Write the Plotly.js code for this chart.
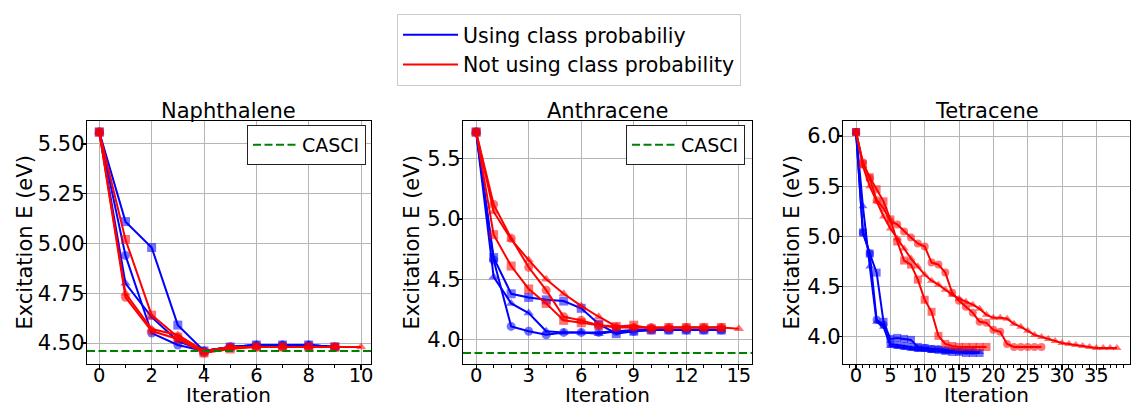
<!DOCTYPE html>
<html>
<head>
<meta charset="utf-8">
<script src="https://cdn.plot.ly/plotly-3.0.1.min.js"></script>
<style>html,body{margin:0;padding:0;background:#fff;}#chart{width:1133px;height:409px;}</style>
</head>
<body>
<div id="chart"></div>
<script>
// ---- Data ----
const panelTitles = ["Naphthalene", "Anthracene", "Tetracene"];
const seriesNames = ["Using class probabiliy", "Not using class probability"];
const xTitle = "Iteration";
const yTitle = "Excitation E (eV)";
const cascis = [4.46, 3.89, null];

// Naphthalene
const napBlueCircle   = [5.56, 4.94, 4.55, 4.49, 4.46, 4.48, 4.49, 4.49, 4.49, 4.48];
const napBlueSquare   = [5.56, 5.11, 4.98, 4.59, 4.46, 4.48, 4.49, 4.49, 4.49, 4.48];
const napBlueTriangle = [5.56, 4.80, 4.63, 4.51, 4.46, 4.48, 4.49, 4.49, 4.49, 4.48];
const napRedCircle    = [5.56, 4.73, 4.56, 4.52, 4.45, 4.48, 4.48, 4.48, 4.48, 4.48];
const napRedSquare    = [5.56, 5.02, 4.64, 4.53, 4.45, 4.47, 4.48, 4.48, 4.48, 4.48];
const napRedTriangle  = [5.56, 4.75, 4.57, 4.54, 4.46, 4.48, 4.48, 4.48, 4.48, 4.48, 4.48];

// Anthracene
const antBlueCircle   = [5.72, 4.66, 4.11, 4.07, 4.04, 4.06, 4.06, 4.06, 4.07, 4.07, 4.08, 4.08, 4.08, 4.08, 4.08];
const antBlueSquare   = [5.72, 4.68, 4.38, 4.35, 4.33, 4.32, 4.26, 4.13, 4.05, 4.07, 4.08, 4.08, 4.08, 4.08, 4.08];
const antBlueTriangle = [5.72, 4.52, 4.30, 4.22, 4.07, 4.06, 4.06, 4.05, 4.07, 4.08, 4.08, 4.08, 4.08, 4.08, 4.08];
const antRedCircle    = [5.72, 5.12, 4.84, 4.60, 4.41, 4.19, 4.16, 4.12, 4.10, 4.10, 4.10, 4.10, 4.10, 4.10, 4.10];
const antRedSquare    = [5.72, 4.87, 4.61, 4.42, 4.30, 4.16, 4.14, 4.12, 4.11, 4.12, 4.09, 4.10, 4.10, 4.10, 4.10];
const antRedTriangle  = [5.72, 5.06, 4.83, 4.66, 4.50, 4.38, 4.28, 4.19, 4.11, 4.10, 4.10, 4.10, 4.10, 4.10, 4.10, 4.09];

// Tetracene
const tetBlueCircle   = [6.04, 5.04, 4.83, 4.17, 4.12, 3.93, 3.92, 3.91, 3.90, 3.89, 3.89, 3.88, 3.88, 3.87, 3.87, 3.86, 3.86, 3.86];
const tetBlueSquare   = [6.04, 5.04, 4.83, 4.64, 4.15, 3.98, 3.99, 3.98, 3.97, 3.90, 3.89, 3.88, 3.87, 3.86, 3.85, 3.85, 3.84, 3.84, 3.84];
const tetBlueTriangle = [6.04, 5.30, 4.70, 4.15, 4.10, 3.91, 3.90, 3.89, 3.88, 3.87, 3.87, 3.86, 3.86, 3.85, 3.85, 3.85, 3.85, 3.85, 3.85];
const tetRedCircle    = [6.04, 5.74, 5.58, 5.36, 5.28, 5.15, 5.12, 5.05, 4.99, 4.93, 4.90, 4.74, 4.72, 4.64, 4.44, 4.36, 4.30, 4.24, 4.15, 4.14, 4.07, 4.05, 3.93, 3.90, 3.90, 3.90, 3.90, 3.90];
const tetRedSquare    = [6.04, 5.72, 5.59, 5.47, 5.35, 5.17, 4.95, 4.76, 4.72, 4.57, 4.37, 4.25, 4.01, 3.93, 3.91, 3.90, 3.90, 3.90, 3.90, 3.90];
const tetRedTriangle  = [6.04, 5.70, 5.50, 5.35, 5.20, 5.08, 4.98, 4.88, 4.78, 4.70, 4.62, 4.56, 4.52, 4.47, 4.42, 4.38, 4.35, 4.32, 4.28, 4.22, 4.19, 4.19, 4.18, 4.13, 4.10, 4.06, 4.02, 4.00, 3.98, 3.96, 3.94, 3.93, 3.92, 3.91, 3.90, 3.89, 3.89, 3.89, 3.89];

const runs = [
  {blue: [napBlueCircle, napBlueSquare, napBlueTriangle], red: [napRedCircle, napRedSquare, napRedTriangle]},
  {blue: [antBlueCircle, antBlueSquare, antBlueTriangle], red: [antRedCircle, antRedSquare, antRedTriangle]},
  {blue: [tetBlueCircle, tetBlueSquare, tetBlueTriangle], red: [tetRedCircle, tetRedSquare, tetRedTriangle]}
];
const symbols = ["circle", "square", "triangle-up"];

// ---- Styling ----
const FONT = "DejaVu Sans";
const FS = 21;
const XFS = 19.5;
const LFS = 20.5;
const BLUE = "#0000ff", RED = "#ff0000", GREEN = "#008000";
const W = 1133, H = 409;
const xDomains = [[87/W, 371/W], [463/W, 752/W], [843/W, 1130/W]];
const yDomain = [(H-364)/H, (H-121)/H];
const yTitleX = [24, 411, 791];
const xRanges = [[-0.47, 10.38], [-0.75, 15.75], [-1.9, 39.9]];
const yRanges = [[4.3945, 5.6155], [3.7985, 5.8115], [3.73, 6.15]];
const xDticks = [2, 3, 5];
const yTickVals = [[4.50, 4.75, 5.00, 5.25, 5.50], [4.0, 4.5, 5.0, 5.5], [4.0, 4.5, 5.0, 5.5, 6.0]];
const yTickFmt = [".2f", ".1f", ".1f"];
const markerSizes = [9, 9, 8];

const traces = [];
const shapes = [];
const annotations = [];
const layout = {
  width: W, height: H,
  margin: {l: 0, r: 0, t: 0, b: 0},
  paper_bgcolor: "#fff", plot_bgcolor: "#fff",
  font: {family: FONT, size: FS, color: "#000"},
  showlegend: true,
  legend: {
    x: 397/W, y: 1 - 14/H, xanchor: "left", yanchor: "top",
    bordercolor: "#cccccc", borderwidth: 1, bgcolor: "#fff",
    font: {family: FONT, size: LFS, color: "#000"},
    itemwidth: 55, tracegroupgap: 0
  },
  legend2: {
    x: 247/W, y: 1 - 125/H, xanchor: "left", yanchor: "top",
    bordercolor: "#222", borderwidth: 1, bgcolor: "#fff",
    font: {family: FONT, size: 19, color: "#000"}, itemwidth: 44
  },
  legend3: {
    x: 626/W, y: 1 - 125/H, xanchor: "left", yanchor: "top",
    bordercolor: "#222", borderwidth: 1, bgcolor: "#fff",
    font: {family: FONT, size: 19, color: "#000"}, itemwidth: 44
  },
  shapes: shapes,
  annotations: annotations
};

for (let p = 0; p < 3; p++) {
  const sfx = p === 0 ? "" : String(p + 1);
  const xa = "x" + sfx, ya = "y" + sfx;
  [["blue", BLUE], ["red", RED]].forEach(([key, col]) => {
    runs[p][key].forEach((vals, i) => {
      traces.push({
        type: "scatter", mode: "lines+markers",
        x: vals.map((_, k) => k), y: vals,
        xaxis: xa, yaxis: ya, showlegend: false,
        line: {color: col, width: 2},
        marker: {symbol: symbols[i], size: markerSizes[p], color: col, opacity: 0.55, line: {width: 0}},
        hoverinfo: "x+y"
      });
    });
  });
  if (cascis[p] !== null) {
    shapes.push({
      type: "line", xref: xa + " domain", yref: ya,
      x0: 0, x1: 1, y0: cascis[p], y1: cascis[p],
      line: {color: GREEN, width: 2, dash: "8px,3.5px"}, layer: "above"
    });
    traces.push({
      type: "scatter", mode: "lines", x: [null], y: [null],
      xaxis: xa, yaxis: ya, name: "CASCI", showlegend: true,
      legend: p === 0 ? "legend2" : "legend3",
      line: {color: GREEN, width: 2, dash: "8px,3.5px"}
    });
  }
  layout["xaxis" + sfx] = {
    domain: xDomains[p], anchor: ya, range: xRanges[p],
    dtick: xDticks[p], tick0: 0,
    showline: true, linecolor: "#000", linewidth: 1.2, mirror: true,
    ticks: "outside", ticklen: 5, tickwidth: 1.2, tickcolor: "#000",
    showgrid: true, gridcolor: "#b5b5b5", gridwidth: 1, zeroline: false,
    minor: {dtick: 1, ticks: "outside", ticklen: 3, tickwidth: 1, tickcolor: "#000", showgrid: false},
    tickfont: {family: FONT, size: XFS, color: "#000"},
    ticklabelstandoff: -12,
    automargin: false
  };
  layout["yaxis" + sfx] = {
    domain: yDomain, anchor: xa, range: yRanges[p],
    tickmode: "array", tickvals: yTickVals[p], tickformat: yTickFmt[p],
    showline: true, linecolor: "#000", linewidth: 1.2, mirror: true,
    ticks: "outside", ticklen: 5, tickwidth: 1.2, tickcolor: "#000",
    showgrid: true, gridcolor: "#b5b5b5", gridwidth: 1, zeroline: false,
    tickfont: {family: FONT, size: FS, color: "#000"},
    ticklabelstandoff: -8,
    automargin: false
  };
  // subplot title
  annotations.push({
    text: panelTitles[p], xref: "paper", yref: "paper",
    x: (xDomains[p][0] + xDomains[p][1]) / 2, y: (H - 111) / H,
    xanchor: "center", yanchor: "middle", showarrow: false,
    font: {family: FONT, size: FS, color: "#000"}
  });
  // x-axis title
  annotations.push({
    text: xTitle, xref: "paper", yref: "paper",
    x: (xDomains[p][0] + xDomains[p][1]) / 2, y: 0,
    xanchor: "center", yanchor: "bottom", showarrow: false,
    font: {family: FONT, size: 20, color: "#000"}
  });
  // y-axis title
  annotations.push({
    text: yTitle, xref: "paper", yref: "paper", textangle: -90,
    x: yTitleX[p] / W, y: (yDomain[0] + yDomain[1]) / 2,
    xanchor: "center", yanchor: "middle", showarrow: false,
    font: {family: FONT, size: FS, color: "#000"}
  });
}

// Main legend entries (line-only handles)
traces.push({type: "scatter", mode: "lines", x: [null], y: [null], name: seriesNames[0],
  line: {color: BLUE, width: 2}, showlegend: true, legend: "legend"});
traces.push({type: "scatter", mode: "lines", x: [null], y: [null], name: seriesNames[1],
  line: {color: RED, width: 2}, showlegend: true, legend: "legend"});

Plotly.newPlot("chart", traces, layout, {displayModeBar: false, staticPlot: true});
</script>
</body>
</html>
